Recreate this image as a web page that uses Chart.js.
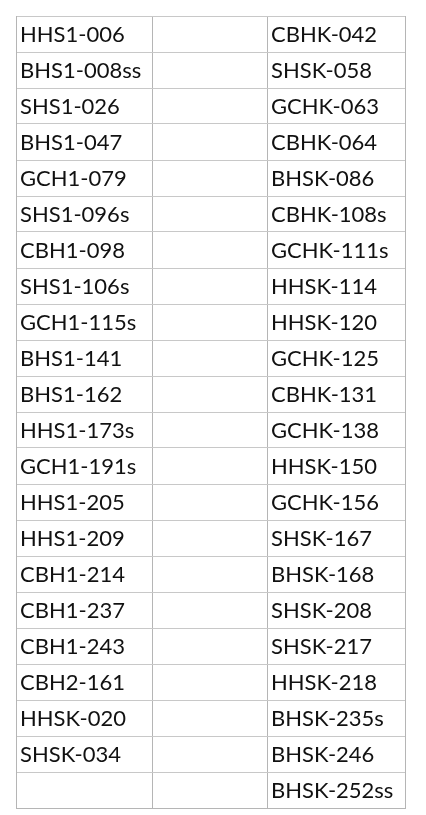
<!DOCTYPE html>
<html><head><meta charset="utf-8">
<script src="https://cdn.jsdelivr.net/npm/chart.js@4"></script>
<style>body{margin:0;background:#fff}</style></head>
<body><canvas id="c" width="426" height="815"></canvas>
<script>
const leftColumn = ["HHS1-006","BHS1-008ss","SHS1-026","BHS1-047","GCH1-079","SHS1-096s","CBH1-098","SHS1-106s","GCH1-115s","BHS1-141","BHS1-162","HHS1-173s","GCH1-191s","HHS1-205","HHS1-209","CBH1-214","CBH1-237","CBH1-243","CBH2-161","HHSK-020","SHSK-034",""];
const middleColumn = new Array(22).fill("");
const rightColumn = ["CBHK-042","SHSK-058","GCHK-063","CBHK-064","BHSK-086","CBHK-108s","GCHK-111s","HHSK-114","HHSK-120","GCHK-125","CBHK-131","GCHK-138","HHSK-150","GCHK-156","SHSK-167","BHSK-168","SHSK-208","SHSK-217","HHSK-218","BHSK-235s","BHSK-246","BHSK-252ss"];
const columnEdges = [0,136,251,389];
const rowCount = 22;
const columns = [leftColumn, middleColumn, rightColumn];

const textPlugin = {
  id:'cells',
  afterDraw(chart){
    const ctx = chart.ctx, xs = chart.scales.x, ys = chart.scales.y;
    ctx.save();
    ctx.fillStyle = '#111';
    ctx.font = '22px Lato, "Open Sans", sans-serif';
    ctx.textBaseline = 'middle';
    columns.forEach((col, ci) => {
      col.forEach((t, ri) => {
        if (!t) return;
        const x = xs.getPixelForValue(columnEdges[ci]) + 4;
        const y = (ys.getPixelForValue(ri) + ys.getPixelForValue(ri+1))/2 + 1;
        ctx.fillText(t, x, y);
      });
    });
    ctx.restore();
  }
};

new Chart(document.getElementById('c'), {
  type:'scatter',
  data:{datasets:[{data:[]}]},
  plugins:[textPlugin],
  options:{
    responsive:false, animation:false,
    layout:{padding:{left:16,top:16,right:21,bottom:7}},
    plugins:{legend:{display:false},tooltip:{enabled:false}},
    scales:{
      x:{type:'linear',min:0,max:389,
        afterBuildTicks(s){ s.ticks = columnEdges.map(v=>({value:v})); },
        ticks:{display:false}, grid:{color:'#b5b5b5',drawTicks:false}, border:{color:'#b5b5b5'}},
      y:{type:'linear',min:0,max:rowCount,reverse:true,
        afterBuildTicks(s){ s.ticks = Array.from({length:rowCount+1},(_, i)=>({value:i})); },
        ticks:{display:false}, grid:{color:'#c8c8c8',drawTicks:false}, border:{color:'#b5b5b5'}}
    }
  }
});
</script></body></html>
